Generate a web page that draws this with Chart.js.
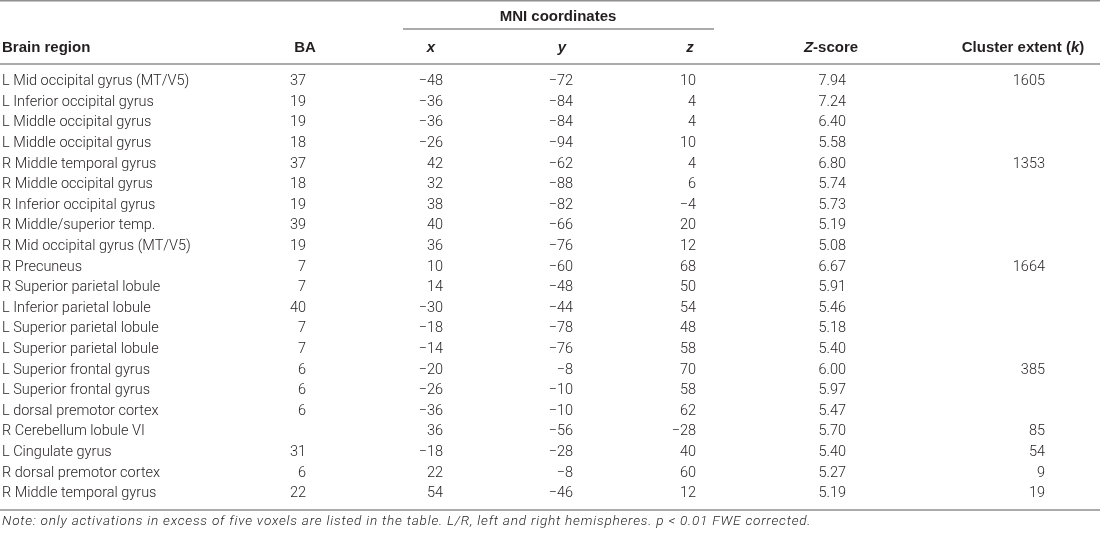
<!DOCTYPE html>
<html>
<head>
<meta charset="utf-8">
<script src="https://cdn.jsdelivr.net/npm/chart.js@4.4.1/dist/chart.umd.min.js"></script>
<style>
body { margin: 0; background: #fff; }
#wrap { width: 1100px; height: 534px; }
</style>
</head>
<body>
<div id="wrap"><canvas id="myTable"></canvas></div>
<script>
"use strict";

// table data, one array per column
const regions = [
    "L Mid occipital gyrus (MT/V5)", "L Inferior occipital gyrus", "L Middle occipital gyrus",
    "L Middle occipital gyrus", "R Middle temporal gyrus", "R Middle occipital gyrus",
    "R Inferior occipital gyrus", "R Middle/superior temp.", "R Mid occipital gyrus (MT/V5)",
    "R Precuneus", "R Superior parietal lobule", "L Inferior parietal lobule",
    "L Superior parietal lobule", "L Superior parietal lobule", "L Superior frontal gyrus",
    "L Superior frontal gyrus", "L dorsal premotor cortex", "R Cerebellum lobule VI",
    "L Cingulate gyrus", "R dorsal premotor cortex", "R Middle temporal gyrus"
];
const ba = ["37", "19", "19", "18", "37", "18", "19", "39", "19", "7", "7", "40", "7", "7", "6", "6", "6", "", "31", "6", "22"];
const mniX = [-48, -36, -36, -26, 42, 32, 38, 40, 36, 10, 14, -30, -18, -14, -20, -26, -36, 36, -18, 22, 54];
const mniY = [-72, -84, -84, -94, -62, -88, -82, -66, -76, -60, -48, -44, -78, -76, -8, -10, -10, -56, -28, -8, -46];
const mniZ = [10, 4, 4, 10, 4, 6, -4, 20, 12, 68, 50, 54, 48, 58, 70, 58, 62, -28, 40, 60, 12];
const zScores = ["7.94", "7.24", "6.40", "5.58", "6.80", "5.74", "5.73", "5.19", "5.08", "6.67", "5.91", "5.46", "5.18", "5.40", "6.00", "5.97", "5.47", "5.70", "5.40", "5.27", "5.19"];
const clusterK = ["1605", "", "", "", "1353", "", "", "", "", "1664", "", "", "", "", "385", "", "", "85", "54", "9", "19"];
const noteText = "Note: only activations in excess of five voxels are listed in the table. L/R, left and right hemispheres. p < 0.01 FWE corrected.";

const BODY = "300 14.5px Roboto";
const BOLD = "bold 15px 'Liberation Sans'";
const BOLD_IT = "italic bold 15px 'Liberation Sans'";
const NOTE = "italic 300 13.6px Roboto";
const INK = "#231f20";
const RULE = "#8f8f8f";

function fmt(n) {
    return n < 0 ? "\u2212" + Math.abs(n) : String(n);
}

// column anchors (x) and alignment
const columns = [
    { labels: regions, at: 2, align: "left" },
    { labels: ba, at: 306, align: "right" },
    { labels: mniX.map(fmt), at: 443, align: "right" },
    { labels: mniY.map(fmt), at: 573, align: "right" },
    { labels: mniZ.map(fmt), at: 696, align: "right" },
    { labels: zScores, at: 846, align: "right" },
    { labels: clusterK, at: 1045, align: "right" }
];

const headers = [
    { segs: [["Brain region", BOLD]], at: 2, align: "left" },
    { segs: [["BA", BOLD]], at: 305, align: "center" },
    { segs: [["x", BOLD_IT]], at: 431, align: "center" },
    { segs: [["y", BOLD_IT]], at: 562, align: "center" },
    { segs: [["z", BOLD_IT]], at: 690, align: "center" },
    { segs: [["Z", BOLD_IT], ["-score", BOLD]], at: 831, align: "center" },
    { segs: [["Cluster extent (", BOLD], ["k", BOLD_IT], [")", BOLD]], at: 1023, align: "center" }
];

function drawRich(c, segs, x, y, align) {
    let w = 0;
    segs.forEach(s => { c.font = s[1]; w += c.measureText(s[0]).width; });
    let cx = align === "center" ? x - w / 2 : (align === "right" ? x - w : x);
    c.textAlign = "left";
    segs.forEach(s => {
        c.font = s[1];
        c.fillText(s[0], cx, y);
        cx += c.measureText(s[0]).width;
    });
}

const tablePlugin = {
    id: "tableText",
    afterDatasetsDraw(chart) {
        const c = chart.ctx;
        const xs = chart.scales.x;
        const ys = chart.scales.y;
        c.save();
        c.fillStyle = INK;
        c.textBaseline = "middle";

        // body cells
        chart.data.datasets.forEach((ds, d) => {
            const meta = chart.getDatasetMeta(d);
            c.font = BODY;
            c.textAlign = columns[d].align;
            meta.data.forEach((pt, i) => {
                c.fillText(columns[d].labels[i], pt.x, pt.y);
            });
        });

        // headers
        headers.forEach(h => drawRich(c, h.segs, xs.getPixelForValue(h.at), ys.getPixelForValue(-1.63), h.align));
        drawRich(c, [["MNI coordinates", BOLD]], xs.getPixelForValue(558), ys.getPixelForValue(-3.13), "center");

        // note, spread out to the width of the original line
        c.font = NOTE;
        c.textAlign = "left";
        const nx0 = xs.getPixelForValue(2), nx1 = xs.getPixelForValue(810);
        const nw = c.measureText(noteText).width;
        if ("letterSpacing" in c) c.letterSpacing = ((nx1 - nx0 - nw) / (noteText.length - 1)).toFixed(2) + "px";
        c.fillText(noteText, nx0, ys.getPixelForValue(21.34));
        if ("letterSpacing" in c) c.letterSpacing = "0px";

        // rules
        c.strokeStyle = RULE;
        c.lineWidth = 1.6;
        const rule = (x0, x1, v) => {
            const y = ys.getPixelForValue(v);
            c.beginPath();
            c.moveTo(xs.getPixelForValue(x0), y);
            c.lineTo(xs.getPixelForValue(x1), y);
            c.stroke();
        };
        rule(0, 1100, -3.92);
        rule(403, 714, -2.55);
        rule(0, 1100, -0.85);
        rule(0, 1100, 20.8);
        c.restore();
    }
};

const ctx = document.getElementById("myTable");

new Chart(ctx, {
    type: "scatter",
    data: {
        datasets: columns.map(col => ({
            data: col.labels.map((_, i) => ({ x: col.at, y: i })),
            pointRadius: 0,
            pointHoverRadius: 0
        }))
    },
    options: {
        responsive: true,
        maintainAspectRatio: false,
        animation: false,
        events: [],
        layout: { padding: 0 },
        plugins: { legend: { display: false }, tooltip: { enabled: false } },
        scales: {
            x: { type: "linear", min: 0, max: 1100, display: false },
            y: { type: "linear", min: -3.956, max: 21.966, reverse: true, display: false }
        }
    },
    plugins: [tablePlugin]
});
</script>
</body>
</html>
